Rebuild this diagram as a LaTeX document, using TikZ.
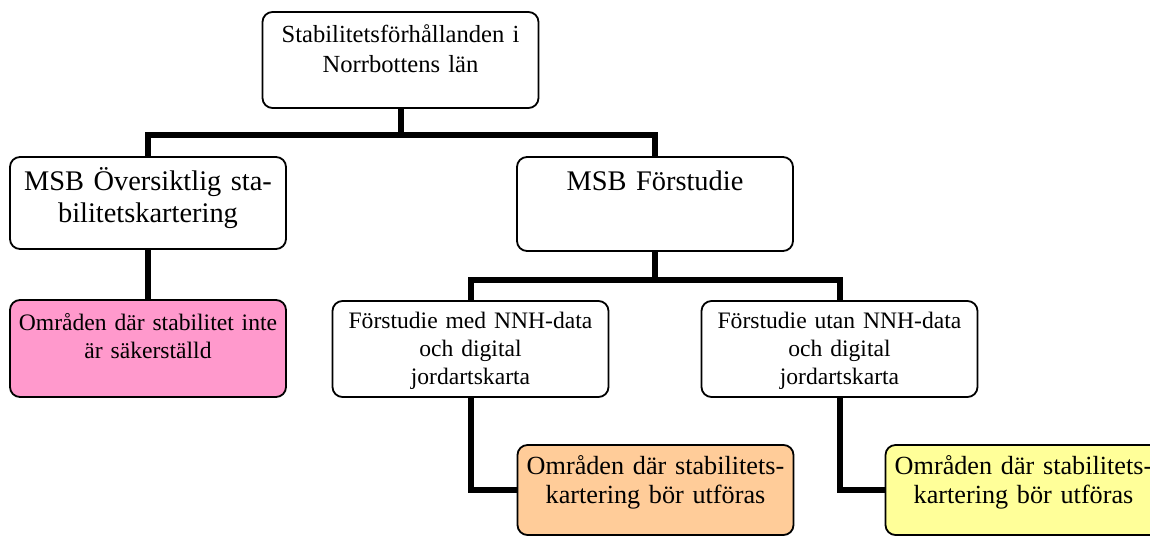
\documentclass[tikz,border=0pt]{standalone}
\usepackage{fontspec}
\setmainfont{Liberation Serif}
\definecolor{rosa}{HTML}{FF99CC}
\definecolor{persika}{HTML}{FFCC99}
\definecolor{gul}{HTML}{FFFF99}
\begin{document}
\begin{tikzpicture}[x=0.5pt,y=-0.5pt,
    head/.style={font=\fontsize{12.3}{15}\selectfont},
    big/.style={font=\fontsize{14.2}{16}\selectfont},
    small/.style={font=\fontsize{11.8}{14}\selectfont},
    low/.style={font=\fontsize{13.1}{14.5}\selectfont}]

      \useasboundingbox (0,0) rectangle (1150,537);
      \clip (0,0) rectangle (1150,537);

      \begin{scope}[every node/.style={draw,rounded corners=5pt,line width=0.9pt,
          inner sep=0pt,text width=138pt,align=center}]
        \node[head,text height=15pt,text depth=33pt] (1) at (400.5,60)
          {Stabilitetsförhållanden i\\Norrbottens län};
        \node[big,text height=16.5pt,text depth=29.5pt] (2) at (148,203)
          {MSB Översiktlig sta-\\bilitetskartering};
        \node[big,text height=16.5pt,text depth=30.5pt] (3) at (655,204)
          {MSB Förstudie};
        \node[small,fill=rosa,text height=15pt,text depth=33.5pt] (4) at (148,348.5)
          {Områden där stabilitet inte\\är säkerställd};
        \node[small,text height=13.5pt,text depth=34.5pt] (5) at (470.5,349)
          {Förstudie med NNH-data\\och digital\\jordartskarta};
        \node[small,text height=13.5pt,text depth=34.5pt] (6) at (839.5,349)
          {Förstudie utan NNH-data\\och digital\\jordartskarta};
        \node[low,fill=persika,text height=14.5pt,text depth=30.5pt] (7) at (655.5,490)
          {Områden där stabilitets-\\kartering bör utföras};
        \node[low,fill=gul,text height=14.5pt,text depth=30.5pt] (8) at (1023.5,490)
          {Områden där stabilitets-\\kartering bör utföras};
      \end{scope}

      \coordinate (9)  at (400.5,135);
      \coordinate (10) at (655,280);

      \begin{scope}[line width=3pt]
        \draw (1)  -- (9);
        \draw (9)  -| (2);
        \draw (9)  -| (3);
        \draw (2)  -- (4);
        \draw (3)  -- (10);
        \draw (10) -| (5);
        \draw (10) -| (6);
        \draw (5)  |- (7);
        \draw (6)  |- (8);
      \end{scope}

    \end{tikzpicture}
\end{document}
